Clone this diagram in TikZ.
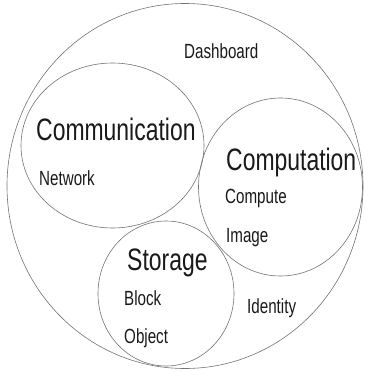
\documentclass[tikz,border=0pt]{standalone}
\usepackage{fontspec}
\newfontfamily\condsans[FakeStretch=0.74]{Liberation Sans}
\tikzset{
  ring/.style={draw=black!55, line width=0.6pt},
  biglabel/.style={anchor=base west, inner sep=0pt, text=black!90,
    font=\condsans\fontsize{31}{31}\selectfont},
  smalllabel/.style={anchor=base west, inner sep=0pt, text=black!90,
    font=\condsans\fontsize{20.5}{20.5}\selectfont},
}
\begin{document}
\begin{tikzpicture}[x=1pt,y=-1pt]
  \useasboundingbox (0,0) rectangle (364,372);
  % outer region and the three groups
  \draw[ring] (185,186) ellipse [x radius=178, y radius=182.5];
  \draw[ring] (112.5,145.5) ellipse [x radius=91.5, y radius=82.5];
  \draw[ring] (280.5,187) ellipse [x radius=82, y radius=89];
  \draw[ring] (166,293.5) ellipse [x radius=68, y radius=72.5];
  % labels
  \node[smalllabel] (dash) at (184,58) {Dashboard};
  \node[biglabel] (comm) at (36,140) {Communication};
  \node[smalllabel] (net) at (39,185) {Network};
  \node[biglabel] (comp) at (226,170) {Computation};
  \node[smalllabel] (cpt) at (225,203) {Compute};
  \node[smalllabel] (img) at (226,242) {Image};
  \node[biglabel] (stor) at (127,270) {Storage};
  \node[smalllabel] (blk) at (124,305) {Block};
  \node[smalllabel] (obj) at (124,343) {Object};
  \node[smalllabel] (idn) at (247,313) {Identity};
\end{tikzpicture}
\end{document}
